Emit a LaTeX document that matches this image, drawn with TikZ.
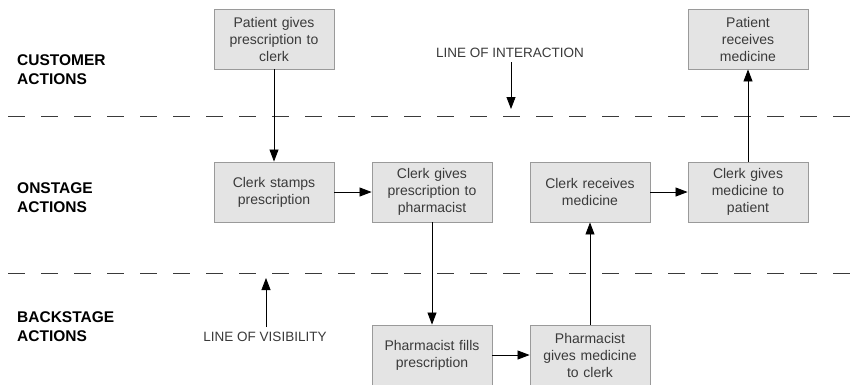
\documentclass[tikz,border=0pt]{standalone}
\usepackage{fontspec}
\setmainfont{Liberation Sans}
\usetikzlibrary{arrows.meta}
\definecolor{boxfill}{HTML}{E4E4E4}
\definecolor{boxline}{HTML}{9A9A9A}
\definecolor{inktext}{HTML}{3A3A3A}
\tikzset{
  stepbox/.style={draw=boxline, fill=boxfill, line width=0.9pt,
    minimum width=120pt, minimum height=60pt, text width=112pt,
    align=center, inner sep=0pt, text=inktext,
    font=\fontsize{14}{17}\selectfont},
  lane/.style={anchor=west, align=left, inner sep=0pt,
    font=\fontsize{15.5}{19}\selectfont\bfseries},
  linelabel/.style={inner sep=0pt, text=inktext,
    font=\fontsize{13.5}{16}\selectfont},
  flow/.style={draw=black, line width=0.8pt,
    -{Triangle[length=12pt,width=9pt]}},
  boundary/.style={draw=inktext, line width=0.8pt,
    dash pattern=on 17pt off 16pt}
}
\begin{document}
\begin{tikzpicture}[x=1pt,y=-1pt]
  \useasboundingbox (0,0) rectangle (864,384);
  \fill[white] (0,0) rectangle (864,384);

  % swimlane boundaries
  \coordinate (iaL) at (8,116);
  \coordinate (iaR) at (856,116);
  \coordinate (viL) at (8,273);
  \coordinate (viR) at (856,273);
  \draw[boundary] (iaL) -- (iaR);
  \draw[boundary] (viL) -- (viR);

  % lane headings
  \node[lane] (customer) at (17,70) {CUSTOMER\\ACTIONS};
  \node[lane] (onstage) at (17,198) {ONSTAGE\\ACTIONS};
  \node[lane] (backstage) at (17,327) {BACKSTAGE\\ACTIONS};

  % line labels with their pointers
  \node[linelabel] (interaction) at (510,53) {LINE OF INTERACTION};
  \coordinate (iaTail) at (511,62);
  \coordinate (iaTip) at (511,109);
  \draw[flow] (iaTail) -- (iaTip);
  \node[linelabel] (visibility) at (265,337) {LINE OF VISIBILITY};
  \coordinate (viTail) at (266,327);
  \coordinate (viTip) at (266,278);
  \draw[flow] (viTail) -- (viTip);

  % process steps
  \node[stepbox] (pgives) at (274,39) {Patient gives\\prescription to\\clerk};
  \node[stepbox] (precv) at (748,39) {Patient\\receives\\medicine};
  \node[stepbox] (cstamp) at (274,192) {Clerk stamps\\prescription};
  \node[stepbox] (cgivesrx) at (432,192) {Clerk gives\\prescription to\\pharmacist};
  \node[stepbox] (crecv) at (590,192) {Clerk receives\\medicine};
  \node[stepbox] (cgivesmed) at (748,192) {Clerk gives\\medicine to\\patient};
  \node[stepbox] (pfills) at (432,355) {Pharmacist fills\\prescription};
  \node[stepbox] (pgivesmed) at (590,355) {Pharmacist\\gives medicine\\to clerk};

  % flow of the prescription and medicine
  \draw[flow] (pgives) -- (cstamp);
  \draw[flow] (cstamp) -- (cgivesrx);
  \draw[flow] (cgivesrx) -- (pfills);
  \draw[flow] (pfills) -- (pgivesmed);
  \draw[flow] (pgivesmed) -- (crecv);
  \draw[flow] (crecv) -- (cgivesmed);
  \draw[flow] (cgivesmed) -- (precv);
\end{tikzpicture}
\end{document}
